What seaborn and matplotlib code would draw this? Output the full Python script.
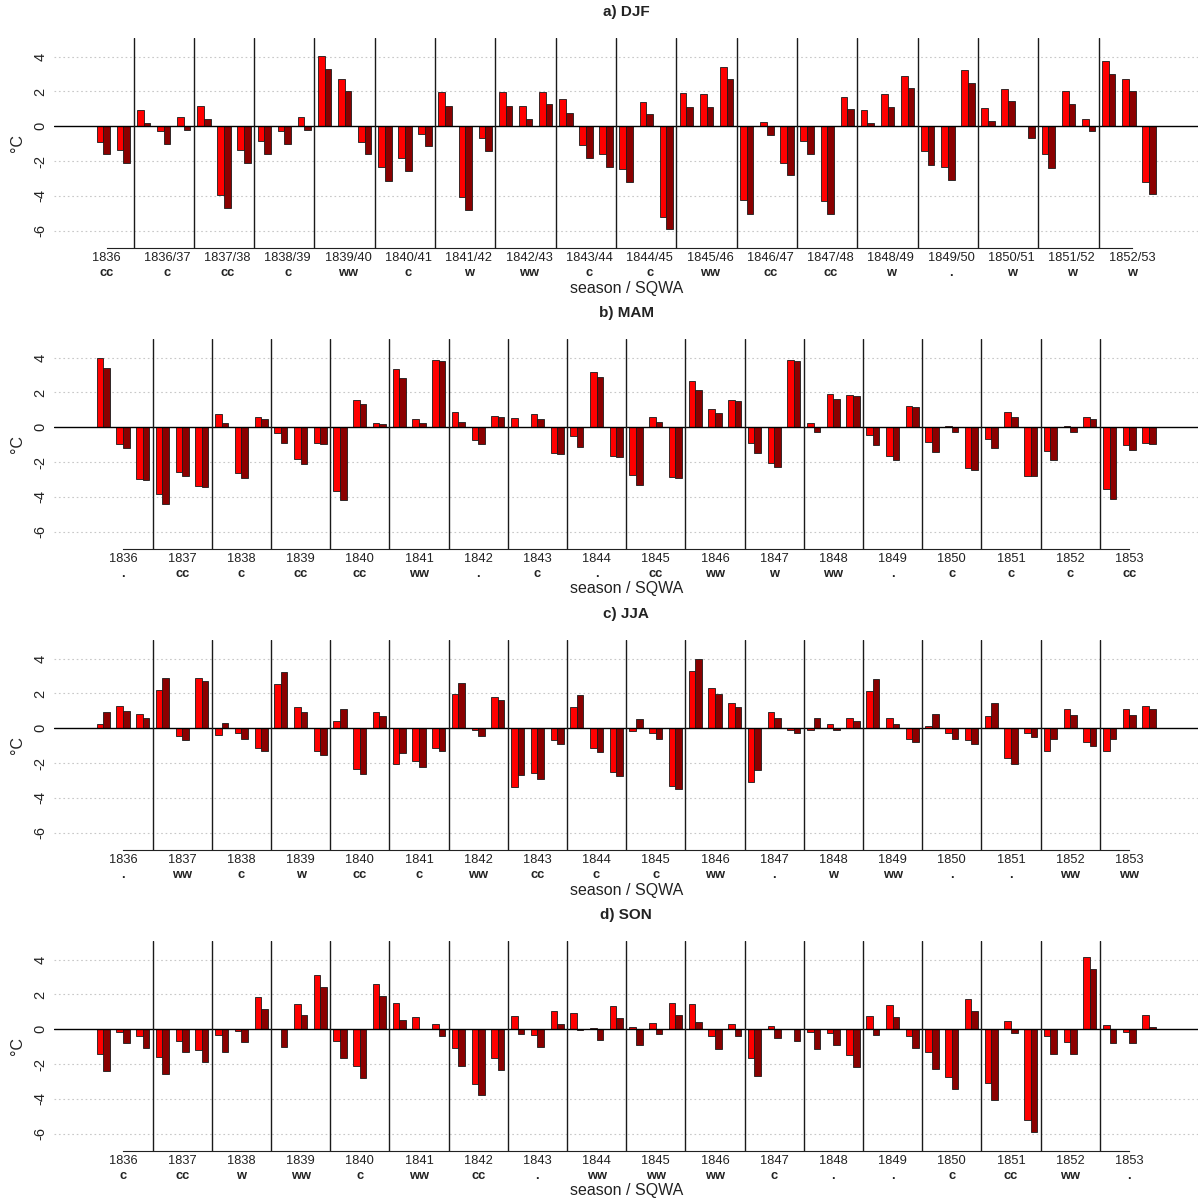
import numpy as np
import pandas as pd
import seaborn as sns
import matplotlib.pyplot as plt

# --- season labels ---
djf_seasons = ['1836', '1836/37', '1837/38', '1838/39', '1839/40', '1840/41',
               '1841/42', '1842/43', '1843/44', '1844/45', '1845/46', '1846/47',
               '1847/48', '1848/49', '1849/50', '1850/51', '1851/52', '1852/53']
year_seasons = ['1836', '1837', '1838', '1839', '1840', '1841', '1842', '1843', '1844',
                '1845', '1846', '1847', '1848', '1849', '1850', '1851', '1852', '1853']

# SQWA codes per season
djf_codes = ['cc', 'c', 'cc', 'c', 'ww', 'c', 'w', 'ww', 'c', 'c', 'ww', 'cc', 'cc', 'w', '.', 'w', 'w', 'w']
mam_codes = ['.', 'cc', 'c', 'cc', 'cc', 'ww', '.', 'c', '.', 'cc', 'ww', 'w', 'ww', '.', 'c', 'c', 'c', 'cc']
jja_codes = ['.', 'ww', 'c', 'w', 'cc', 'c', 'ww', 'cc', 'c', 'c', 'ww', '.', 'w', 'ww', '.', '.', 'ww', 'ww']
son_codes = ['c', 'cc', 'w', 'ww', 'c', 'ww', 'cc', '.', 'ww', 'ww', 'ww', 'c', '.', '.', 'c', 'cc', 'ww', '.']

# --- monthly anomalies (°C): two series per month ---
# DJF: first season only Jan/Feb 1836
djf_red = [-0.88, -1.38,
           0.96, -0.29, 0.52,   1.15, -3.96, -1.38,   -0.82, -0.29, 0.52,
           4.06, 2.74, -0.92,   -2.35, -1.84, -0.42,  1.99, -4.04, -0.69,
           1.99, 1.15, 1.99,    1.55, -1.05, -1.61,   -2.45, 1.42, -5.22,
           1.89, 1.84, 3.41,    -4.25, 0.23, -2.12,   -0.82, -4.31, 1.68,
           0.96, 1.84, 2.91,    -1.44, -2.35, 3.22,   1.05, 2.16, 0.00,
           -1.61, 2.01, 0.40,   3.77, 2.74, -3.23]
djf_dark = [-1.61, -2.12,
            0.17, -1.01, -0.19,  0.40, -4.71, -2.12,  -1.61, -1.01, -0.19,
            3.31, 2.01, -1.61,   -3.14, -2.58, -1.13, 1.19, -4.80, -1.40,
            1.19, 0.40, 1.28,    0.78, -1.80, -2.32,  -3.23, 0.69, -5.91,
            1.11, 1.11, 2.72,    -5.03, -0.52, -2.81, -1.61, -5.03, 1.00,
            0.17, 1.11, 2.20,    -2.22, -3.10, 2.49,  0.29, 1.44, -0.69,
            -2.39, 1.28, -0.29,  2.99, 2.01, -3.92]

mam_red = [3.96, -0.94, -2.97,  -3.85, -2.55, -3.37,  0.77, -2.64, 0.56,
           -0.34, -1.84, -0.88, -3.66, 1.55, 0.23,    3.35, 0.46, 3.87,
           0.88, -0.73, 0.63,   0.54, 0.78, -1.49,    -0.52, 3.18, -1.67,
           -2.72, 0.59, -2.87,  2.66, 1.05, 1.55,     -0.92, -2.03, 3.87,
           0.27, 1.89, 1.84,    -0.42, -1.63, 1.24,   -0.82, 0.06, -2.35,
           -0.65, 0.88, -2.78,  -1.34, 0.06, 0.56,    -3.56, -1.03, -0.88]
mam_dark = [3.39, -1.21, -3.02,  -4.42, -2.83, -3.43,  0.23, -2.93, 0.50,
            -0.88, -2.09, -0.94, -4.21, 1.32, 0.17,    2.81, 0.23, 3.83,
            0.33, -0.98, 0.59,   0.00, 0.50, -1.53,    -1.11, 2.89, -1.72,
            -3.33, 0.33, -2.91,  2.12, 0.84, 1.51,     -1.49, -2.30, 3.83,
            -0.29, 1.61, 1.78,   -1.03, -1.91, 1.19,   -1.40, -0.29, -2.43,
            -1.21, 0.59, -2.83,  -1.89, -0.29, 0.50,   -4.13, -1.32, -0.94]

jja_red = [0.23, 1.28, 0.82,    2.20, -0.42, 2.89,   -0.38, -0.29, -1.11,
           2.53, 1.21, -1.30,   0.42, -2.32, 0.92,   -2.07, -1.89, -1.11,
           1.95, -0.10, 1.78,   -3.37, -2.58, -0.67, 1.24, -1.11, -2.49,
           -0.17, -0.29, -3.31, 3.31, 2.30, 1.44,    -3.08, 0.94, -0.10,
           -0.10, 0.23, 0.59,   2.12, 0.59, -0.61,   0.13, -0.29, -0.67,
           0.73, -1.72, -0.29,  -1.30, 1.09, -0.80,  -1.30, 1.09, 1.28]
jja_dark = [0.94, 1.01, 0.59,    2.89, -0.69, 2.72,   0.33, -0.61, -1.30,
            3.22, 0.92, -1.53,   1.09, -2.64, 0.69,   -1.40, -2.24, -1.30,
            2.62, -0.42, 1.61,   -2.68, -2.91, -0.88, 1.93, -1.38, -2.74,
            0.52, -0.61, -3.50,  3.98, 1.99, 1.21,    -2.41, 0.59, -0.29,
            0.61, -0.11, 0.42,   2.81, 0.27, -0.80,   0.82, -0.61, -0.88,
            1.44, -2.05, -0.52,  -0.61, 0.77, -1.03,  -0.61, 0.77, 1.09]

son_red = [-1.40, -0.15, -0.40, -1.57, -0.65, -1.21, -0.31, -0.08, 1.84,
           0.04, 1.47, 3.14,    -0.69, -2.14, 2.62,  1.53, 0.69, 0.31,
           -1.07, -3.14, -1.65, 0.75, -0.34, 1.03,   0.94, 0.10, 1.34,
           0.13, 0.38, 1.53,    1.44, -0.40, 0.33,   -1.67, 0.17, 0.04,
           -0.17, -0.23, -1.49, 0.75, 1.40, -0.38,   -1.30, -2.72, 1.76,
           -3.10, 0.48, -5.22,  -0.38, -0.75, 4.15,  0.25, -0.13, 0.82]
son_dark = [-2.41, -0.80, -1.07, -2.60, -1.30, -1.91, -1.30, -0.71, 1.15,
            -1.00, 0.82, 2.43,   -1.68, -2.81, 1.91,  0.54, 0.00, -0.38,
            -2.09, -3.79, -2.35, -0.29, -1.01, 0.31,  -0.06, -0.61, 0.65,
            -0.88, -0.29, 0.82,  0.42, -1.11, -0.38,  -2.68, -0.52, -0.65,
            -1.15, -0.88, -2.18, -0.31, 0.71, -1.07,  -2.26, -3.41, 1.07,
            -4.08, -0.19, -5.91, -1.40, -1.40, 3.46,  -0.80, -0.80, 0.13]

panels = [
    ('a) DJF', djf_seasons, djf_codes, djf_red, djf_dark),
    ('b) MAM', year_seasons, mam_codes, mam_red, mam_dark),
    ('c) JJA', year_seasons, jja_codes, jja_red, jja_dark),
    ('d) SON', year_seasons, son_codes, son_red, son_dark),
]

sns.set_theme(style='white')
plt.rcParams['font.family'] = ['Liberation Sans', 'DejaVu Sans']

W, H = 1198, 1202
PX = 0.72  # points per pixel at dpi 100
fig = plt.figure(figsize=(W / 100, H / 100), dpi=100)
palette = {'red': '#FF0000', 'dark': '#8B0000'}

for k, (title, seasons, codes, red, dark) in enumerate(panels):
    top_px = 38.4 + 301 * k
    bot_px = 248.0 + 301 * k
    ax = fig.add_axes([54.3 / W, 1 - bot_px / H, (W - 54.3) / W, (bot_px - top_px) / H])

    n = len(red)
    g = np.arange(n)
    df = pd.DataFrame({
        'pos': np.concatenate([3 * g + 1.5, 3 * g + 2.5]),
        'value': red + dark,
        'series': ['red'] * n + ['dark'] * n,
    })

    # gridlines behind bars
    for v in [-6, -4, -2, 2, 4]:
        ax.axhline(v, color='#C8C8C8', lw=0.8, ls=(0, (1.5, 2.5)), zorder=0)

    sns.barplot(data=df, x='pos', y='value', hue='series', palette=palette,
                native_scale=True, width=1.0, dodge=False, errorbar=None,
                saturation=1, edgecolor='#1a1a1a', linewidth=0.6,
                legend=False, ax=ax, zorder=2)

    # season layout: DJF starts with only two months
    djf = n == 53
    ticks = [9 * s + (2.5 if djf else 5) for s in range(18)]
    seps = [9 * s + (-2.5 if djf else 0.5) for s in range(1, 18)]

    ax.axhline(0, color='black', lw=1.0, zorder=3)
    for x in seps:
        ax.axvline(x, color='#1a1a1a', lw=1.0, zorder=3)

    lo, hi = 1, 3 * n
    ext = (hi - lo) * 0.04
    ax.set_xlim(lo - ext, hi + ext)
    ax.set_ylim(-7.0, 5.05)

    ax.set_xticks(ticks)
    ax.set_xticklabels(seasons, fontsize=9.3, color='#222222')
    ax.tick_params(axis='x', length=0, pad=3)
    ax.set_yticks([-6, -4, -2, 0, 2, 4])
    ax.set_yticklabels(['-6', '-4', '-2', '0', '2', '4'], fontsize=10.5, color='#222222')
    ax.tick_params(axis='y', length=0, pad=5, labelrotation=90)
    for lab in ax.get_yticklabels():
        lab.set_va('center')

    for side in ['left', 'top', 'right']:
        ax.spines[side].set_visible(False)
    ax.spines['bottom'].set_bounds(ticks[0], ticks[-1])
    ax.spines['bottom'].set_color('#222222')
    ax.spines['bottom'].set_linewidth(0.8)
    ax.set_xlabel('')
    ax.set_ylabel('')

    for x, c in zip(ticks, codes):
        ax.annotate(c, xy=(x, 0), xycoords=('data', 'axes fraction'),
                    xytext=(0, -25 * PX), textcoords='offset points',
                    ha='center', va='center', fontsize=9.3, fontweight='bold',
                    color='#222222')
    ax.annotate('season / SQWA', xy=(0.5, 0), xycoords='axes fraction',
                xytext=(0, -40 * PX), textcoords='offset points',
                ha='center', va='center', fontsize=11.5, color='#222222')
    ax.annotate('°C', xy=(0, 0.5), xycoords='axes fraction',
                xytext=(-37 * PX, 0), textcoords='offset points',
                ha='center', va='center', rotation=90, fontsize=11.5, color='#222222')
    ax.annotate(title, xy=(0.5, 1), xycoords='axes fraction',
                xytext=(0, 26.4 * PX), textcoords='offset points',
                ha='center', va='center', fontsize=11, fontweight='bold', color='#222222')

fig.savefig('out.png', dpi=100)
